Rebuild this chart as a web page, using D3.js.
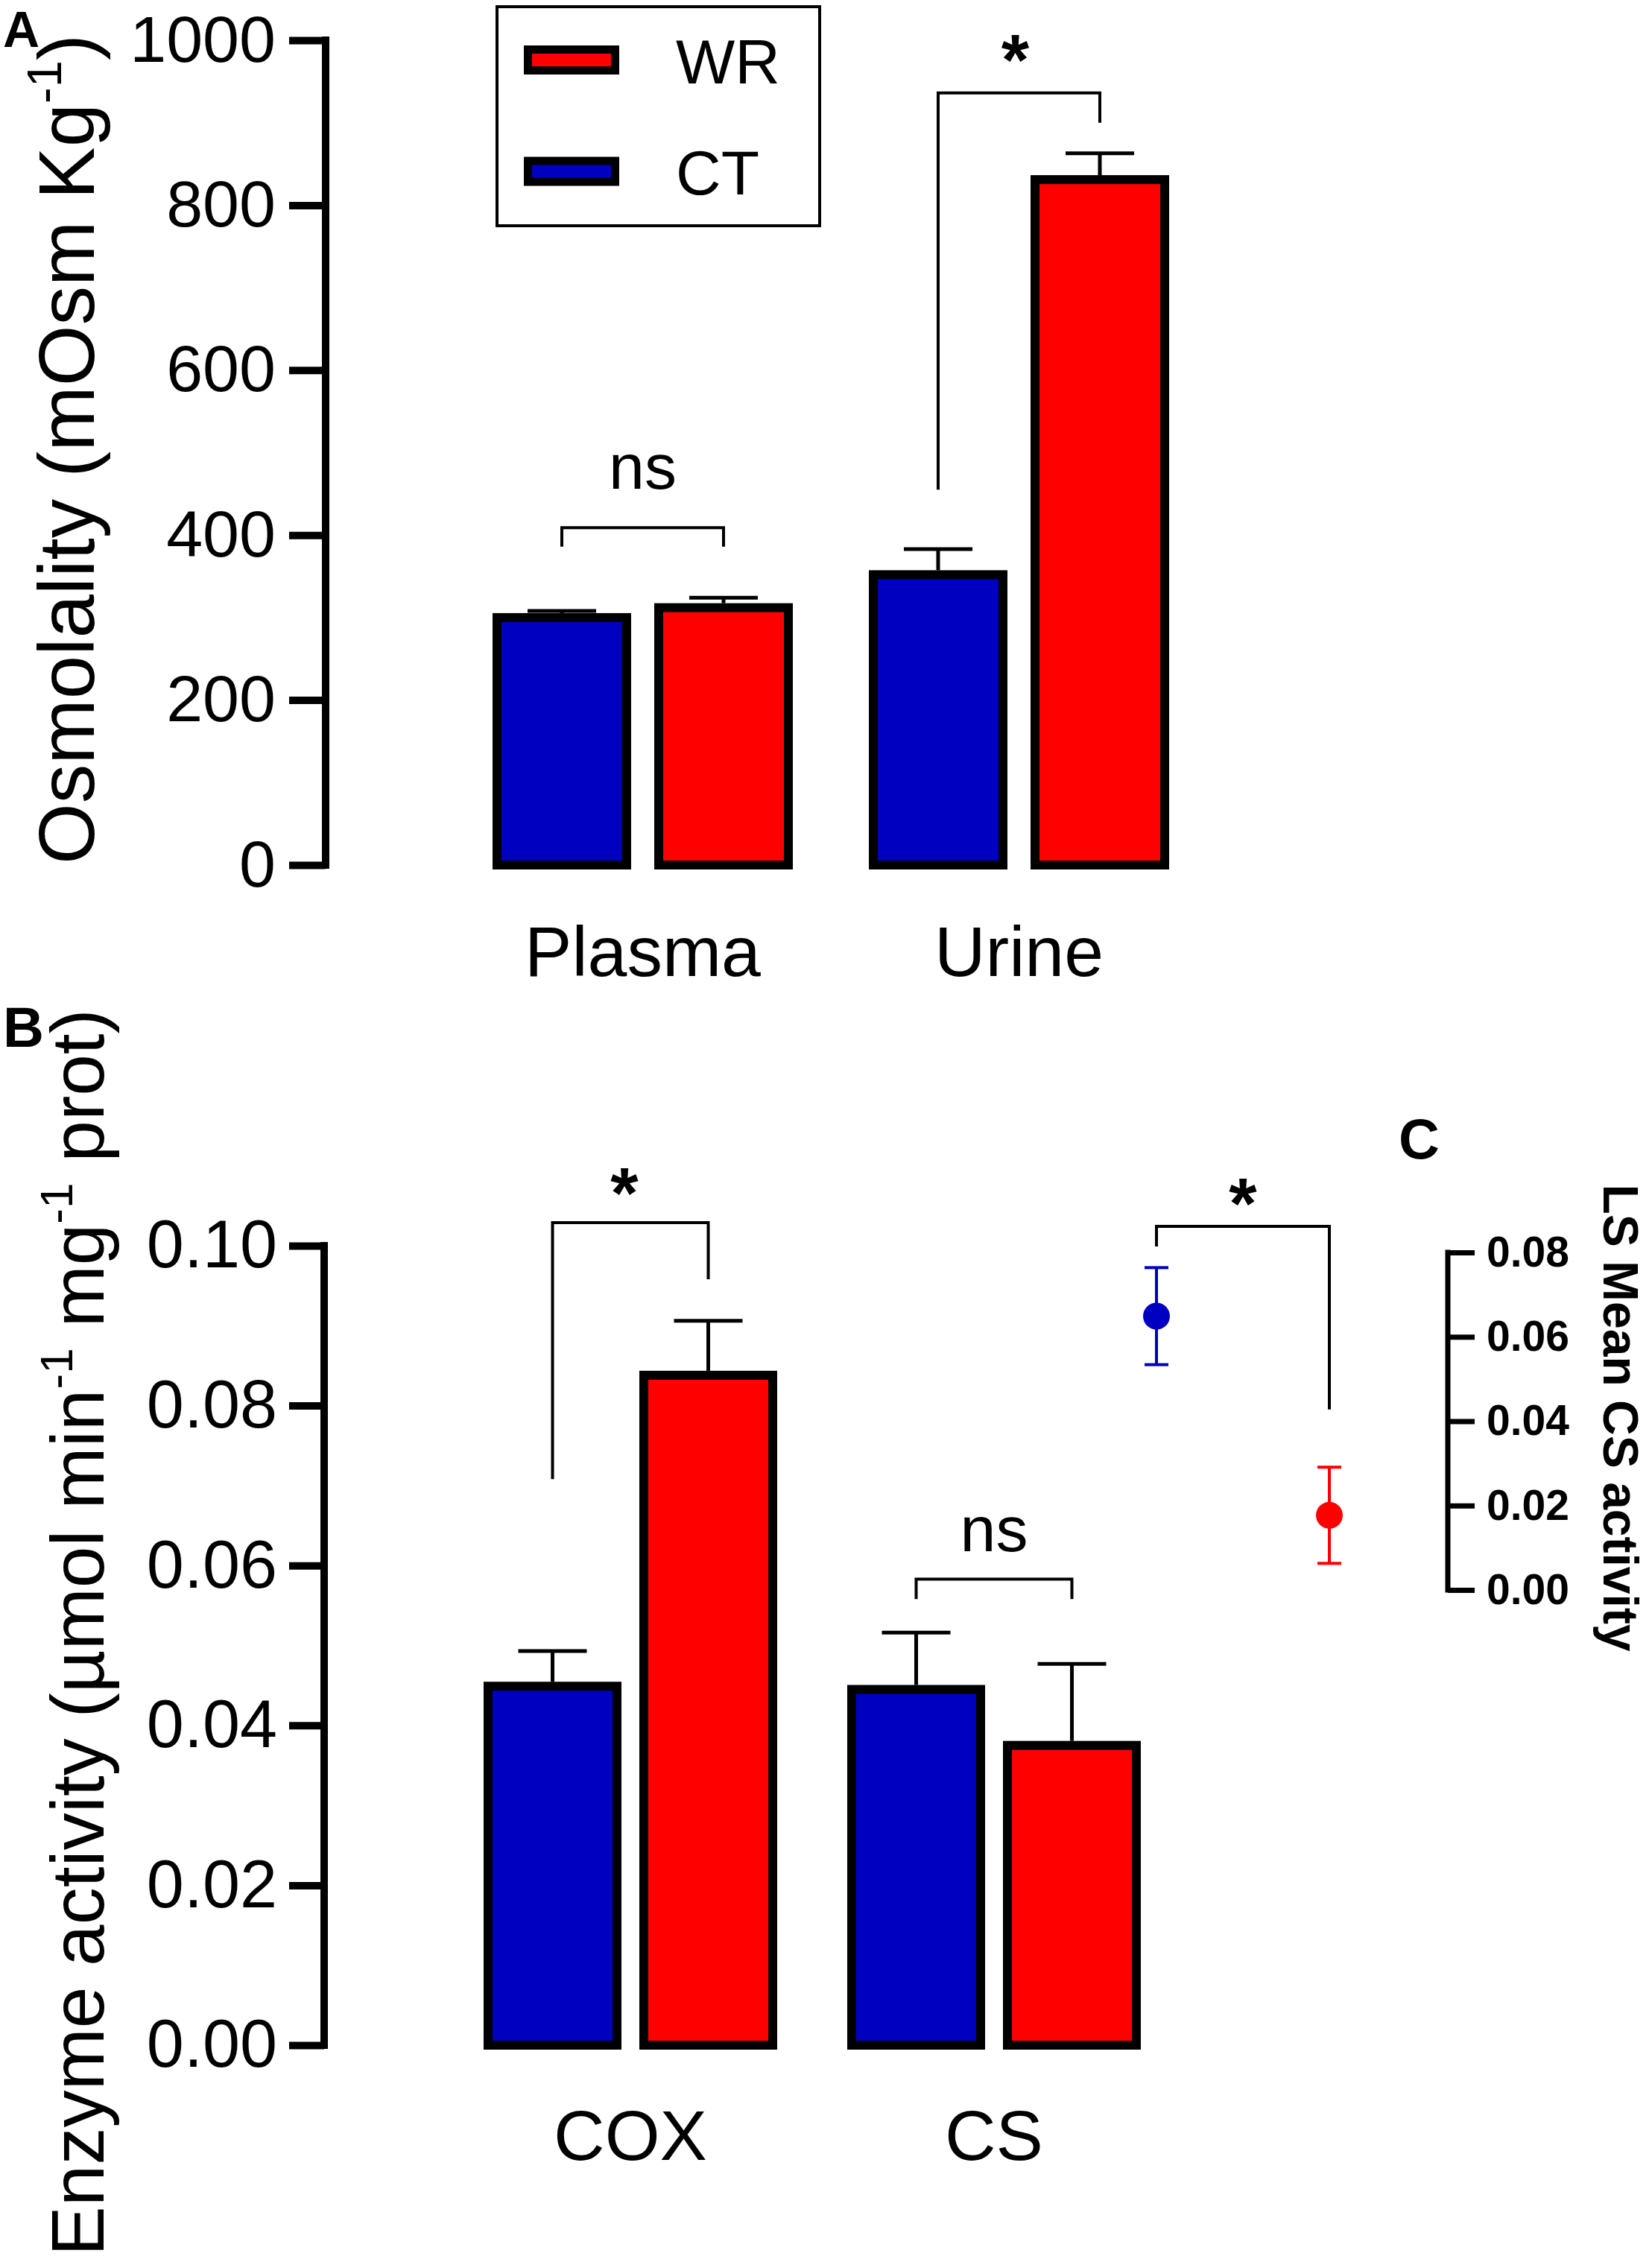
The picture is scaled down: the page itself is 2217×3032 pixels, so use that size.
<!DOCTYPE html>
<html><head><meta charset="utf-8">
<script src="https://cdn.jsdelivr.net/npm/d3@7"></script>
<style>body{margin:0;background:#fff}</style>
</head><body>
<svg id="chart" width="2217" height="3032" xmlns="http://www.w3.org/2000/svg"></svg>
<script>
// ---------------- DATA ----------------
const seriesKeys = ["CT", "WR"];

const groupsA = ["Plasma", "Urine"];
const meanA_CT = [300, 352];
const semA_CT = [8, 31];
const meanA_WR = [312, 831];
const semA_WR = [12, 32];
const ticksA = [0, 200, 400, 600, 800, 1000];
const bracketsA = [
  {group: "Plasma", label: "ns", top: 409, left: 386, right: 386},
  {group: "Urine", label: "*", top: 936, left: 455, right: 900}
];

const groupsB = ["COX", "CS"];
const meanB_CT = [0.0449, 0.0445];
const semB_CT = [0.0044, 0.0071];
const meanB_WR = [0.0838, 0.0375];
const semB_WR = [0.0068, 0.0102];
const ticksB = [0, 0.02, 0.04, 0.06, 0.08, 0.10];
const bracketsB = [
  {group: "COX", label: "*", top: 0.1029, left: 0.0708, right: 0.0958},
  {group: "CS", label: "ns", top: 0.0583, left: 0.0558, right: 0.0558}
];

const groupsC = ["CT", "WR"];
const meanC = [0.0649, 0.0177];
const semC = [0.0115, 0.0114];
const ticksC = [0, 0.02, 0.04, 0.06, 0.08];
const bracketC = {label: "*", top: 0.0862, left: 0.0814, right: 0.0428};

const legendItems = ["WR", "CT"];

// ---------------- STYLE ----------------
const FONT = "'Liberation Sans', Arial, Helvetica, sans-serif";
const COLORS = {CT: "#0000c0", WR: "#ff0000"};

const svg = d3.select("#chart");
svg.append("rect").attr("width", 2217).attr("height", 3032).attr("fill", "#fff");

function rows(groups, ct, ctSem, wr, wrSem) {
  const out = [];
  groups.forEach((g, i) => {
    out.push({group: g, key: "CT", v: ct[i], e: ctSem[i]});
    out.push({group: g, key: "WR", v: wr[i], e: wrSem[i]});
  });
  return out;
}

function supText(sel, parts, fs) {
  parts.forEach((p, i) => {
    const t = sel.append("tspan").text(p.t);
    if (p.sup) {
      t.attr("font-size", fs * 0.62).attr("dy", -fs * 0.42);
    } else if (i > 0 && parts[i - 1].sup) {
      t.attr("dy", fs * 0.42);
    }
  });
}

function drawBarPanel(cfg) {
  const g = svg.append("g");
  const y = d3.scaleLinear().domain(cfg.domain).range(cfg.yRange);
  const x0 = d3.scaleBand().domain(cfg.groups).range(cfg.xRange)
    .paddingInner(cfg.padOuterGroups).paddingOuter(0);
  const x1 = d3.scaleBand().domain(seriesKeys).range([0, x0.bandwidth()])
    .paddingInner(cfg.padInner).paddingOuter(0);
  const data = rows(cfg.groups, cfg.ct, cfg.ctSem, cfg.wr, cfg.wrSem);
  const sw = cfg.barStroke;

  // axis
  const axis = d3.axisLeft(y).tickValues(cfg.ticks).tickSize(cfg.tickLen)
    .tickSizeOuter(0).tickPadding(cfg.tickPad).tickFormat(cfg.fmt);
  const ag = g.append("g").attr("transform", `translate(${cfg.axisX},0)`).call(axis);
  ag.select(".domain").attr("stroke", "#000").attr("stroke-width", cfg.axisStroke)
    .attr("d", `M0,${y(cfg.domain[1]) - cfg.axisStroke / 2}V${y(cfg.domain[0]) + cfg.axisStroke / 2}`);
  ag.selectAll(".tick line").attr("stroke", "#000").attr("stroke-width", cfg.axisStroke);
  ag.selectAll(".tick text").attr("font-family", FONT).attr("font-size", cfg.tickFs)
    .attr("fill", "#000");

  // bars
  const cx = d => x0(d.group) + x1(d.key) + x1.bandwidth() / 2;
  g.selectAll("rect.bar").data(data).join("rect").attr("class", "bar")
    .attr("x", d => x0(d.group) + x1(d.key) + sw / 2)
    .attr("width", x1.bandwidth() - sw)
    .attr("y", d => y(d.v))
    .attr("height", d => y(0) - y(d.v))
    .attr("fill", d => COLORS[d.key])
    .attr("stroke", "#000").attr("stroke-width", sw);

  // error bars
  g.selectAll("line.err").data(data).join("line").attr("class", "err")
    .attr("x1", cx).attr("x2", cx)
    .attr("y1", d => y(d.v) - sw / 2).attr("y2", d => y(d.v + d.e))
    .attr("stroke", "#000").attr("stroke-width", cfg.errStroke);
  g.selectAll("line.cap").data(data).join("line").attr("class", "cap")
    .attr("x1", d => cx(d) - cfg.capHalf).attr("x2", d => cx(d) + cfg.capHalf)
    .attr("y1", d => y(d.v + d.e)).attr("y2", d => y(d.v + d.e))
    .attr("stroke", "#000").attr("stroke-width", cfg.errStroke);

  // brackets
  cfg.brackets.forEach(b => {
    const xl = x0(b.group) + x1("CT") + x1.bandwidth() / 2;
    const xr = x0(b.group) + x1("WR") + x1.bandwidth() / 2;
    g.append("path")
      .attr("d", `M${xl},${y(b.left)}V${y(b.top)}H${xr}V${y(b.right)}`)
      .attr("fill", "none").attr("stroke", "#000").attr("stroke-width", cfg.bracketStroke);
    const star = b.label === "*";
    g.append("text").attr("x", (xl + xr) / 2 + (star ? cfg.starDx : 0))
      .attr("y", y(b.top) - (star ? cfg.starOff : cfg.nsOff))
      .attr("text-anchor", "middle").attr("font-family", FONT)
      .attr("font-size", star ? cfg.starFs : cfg.nsFs)
      .attr("font-weight", star ? "bold" : "normal")
      .text(b.label);
  });

  // category labels
  g.selectAll("text.cat").data(cfg.groups).join("text").attr("class", "cat")
    .attr("x", d => x0(d) + x0.bandwidth() / 2).attr("y", cfg.catY)
    .attr("text-anchor", "middle").attr("font-family", FONT)
    .attr("font-size", cfg.catFs).text(d => d);

  // y label
  const yl = g.append("text")
    .attr("transform", `translate(${cfg.ylabX},${cfg.ylabY}) rotate(-90)`)
    .attr("text-anchor", "middle").attr("font-family", FONT)
    .attr("font-size", cfg.ylabFs);
  supText(yl, cfg.ylabParts, cfg.ylabFs);

  return {g, y, x0, x1};
}

// ---------------- PANEL A ----------------
const A = drawBarPanel({
  groups: groupsA, ct: meanA_CT, ctSem: semA_CT, wr: meanA_WR, wrSem: semA_WR,
  domain: [0, 1000], yRange: [1161, 54], ticks: ticksA, fmt: d3.format("d"),
  xRange: [661, 1569], padOuterGroups: 0.202, padInner: 0.143,
  axisX: 437, tickLen: 49, tickPad: 18, tickFs: 88, axisStroke: 10,
  barStroke: 12, errStroke: 5, capHalf: 46, bracketStroke: 4,
  brackets: bracketsA, starFs: 96, starOff: 12, starDx: -5, nsFs: 86, nsOff: 52,
  catY: 1310, catFs: 95,
  ylabX: 126, ylabY: 603, ylabFs: 105,
  ylabParts: [{t: "Osmolality (mOsm Kg"}, {t: "-1", sup: true}, {t: ")"}]
});

// legend
const lg = svg.append("g");
lg.append("rect").attr("x", 667).attr("y", 9).attr("width", 433).attr("height", 294)
  .attr("fill", "#fff").attr("stroke", "#000").attr("stroke-width", 4);
const legY = d3.scalePoint().domain(legendItems).range([80.5, 230]);
lg.selectAll("rect.sw").data(legendItems).join("rect").attr("class", "sw")
  .attr("x", 708.5).attr("y", d => legY(d) - 14).attr("width", 117).attr("height", 28)
  .attr("fill", d => COLORS[d]).attr("stroke", "#000").attr("stroke-width", 11);
lg.selectAll("text.lt").data(legendItems).join("text").attr("class", "lt")
  .attr("x", 907).attr("y", d => legY(d) + 31)
  .attr("font-family", FONT).attr("font-size", 84).text(d => d);

// ---------------- PANEL B ----------------
const B = drawBarPanel({
  groups: groupsB, ct: meanB_CT, ctSem: semB_CT, wr: meanB_WR, wrSem: semB_WR,
  domain: [0, 0.1], yRange: [2745, 1672], ticks: ticksB, fmt: d3.format(".2f"),
  xRange: [649, 1531], padOuterGroups: 0.1926, padInner: 0.1148,
  axisX: 435, tickLen: 47, tickPad: 16, tickFs: 90, axisStroke: 10,
  barStroke: 12, errStroke: 5, capHalf: 46, bracketStroke: 4,
  brackets: bracketsB, starFs: 96, starOff: 7, starDx: -8, nsFs: 86, nsOff: 37,
  catY: 2899, catFs: 95,
  ylabX: 139, ylabY: 2191, ylabFs: 100,
  ylabParts: [{t: "Enzyme activity (µmol min"}, {t: "-1", sup: true}, {t: "  mg"},
              {t: "-1", sup: true}, {t: "  prot)"}]
});

// ---------------- PANEL C ----------------
const gc = svg.append("g");
const yC = d3.scaleLinear().domain([0, 0.08]).range([2134, 1681]);
const xC = d3.scalePoint().domain(groupsC).range([1552, 1784]);
const axC = d3.axisRight(yC).tickValues(ticksC).tickSize(36).tickSizeOuter(0)
  .tickPadding(16).tickFormat(d3.format(".2f"));
const acg = gc.append("g").attr("transform", "translate(1943,0)").call(axC);
acg.select(".domain").attr("stroke", "#000").attr("stroke-width", 7)
  .attr("d", `M0,${yC(0.08) - 3.5}V${yC(0) + 3.5}`);
acg.selectAll(".tick line").attr("stroke", "#000").attr("stroke-width", 7);
acg.selectAll(".tick text").attr("font-family", FONT).attr("font-size", 57)
  .attr("font-weight", "bold").attr("fill", "#000");

const dataC = groupsC.map((k, i) => ({key: k, v: meanC[i], e: semC[i]}));
gc.selectAll("line.cerr").data(dataC).join("line").attr("class", "cerr")
  .attr("x1", d => xC(d.key)).attr("x2", d => xC(d.key))
  .attr("y1", d => yC(d.v - d.e)).attr("y2", d => yC(d.v + d.e))
  .attr("stroke", d => COLORS[d.key]).attr("stroke-width", 4);
[1, -1].forEach(s => {
  gc.selectAll("line.ccap" + (s > 0 ? "u" : "d")).data(dataC).join("line")
    .attr("class", "ccap" + (s > 0 ? "u" : "d"))
    .attr("x1", d => xC(d.key) - 16).attr("x2", d => xC(d.key) + 16)
    .attr("y1", d => yC(d.v + s * d.e)).attr("y2", d => yC(d.v + s * d.e))
    .attr("stroke", d => COLORS[d.key]).attr("stroke-width", 4);
});
gc.selectAll("circle.pt").data(dataC).join("circle").attr("class", "pt")
  .attr("cx", d => xC(d.key)).attr("cy", d => yC(d.v)).attr("r", 18)
  .attr("fill", d => COLORS[d.key]);

gc.append("path")
  .attr("d", `M${xC("CT")},${yC(bracketC.left)}V${yC(bracketC.top)}H${xC("WR")}V${yC(bracketC.right)}`)
  .attr("fill", "none").attr("stroke", "#000").attr("stroke-width", 4);
gc.append("text").attr("x", (xC("CT") + xC("WR")) / 2).attr("y", yC(bracketC.top) + 2)
  .attr("text-anchor", "middle").attr("font-family", FONT).attr("font-size", 96)
  .attr("font-weight", "bold").text(bracketC.label);

gc.append("text").attr("transform", "translate(2152,1903) rotate(90)")
  .attr("text-anchor", "middle").attr("font-family", FONT).attr("font-size", 66)
  .attr("font-weight", "bold").text("LS Mean CS activity");

// ---------------- PANEL LETTERS ----------------
const letters = [
  {t: "A", x: 4, y: 63, fs: 68},
  {t: "B", x: 4, y: 1405, fs: 76},
  {t: "C", x: 1877, y: 1555, fs: 76}
];
svg.selectAll("text.letter").data(letters).join("text").attr("class", "letter")
  .attr("x", d => d.x).attr("y", d => d.y).attr("font-family", FONT)
  .attr("font-weight", "bold").attr("font-size", d => d.fs).text(d => d.t);
</script>
</body></html>
